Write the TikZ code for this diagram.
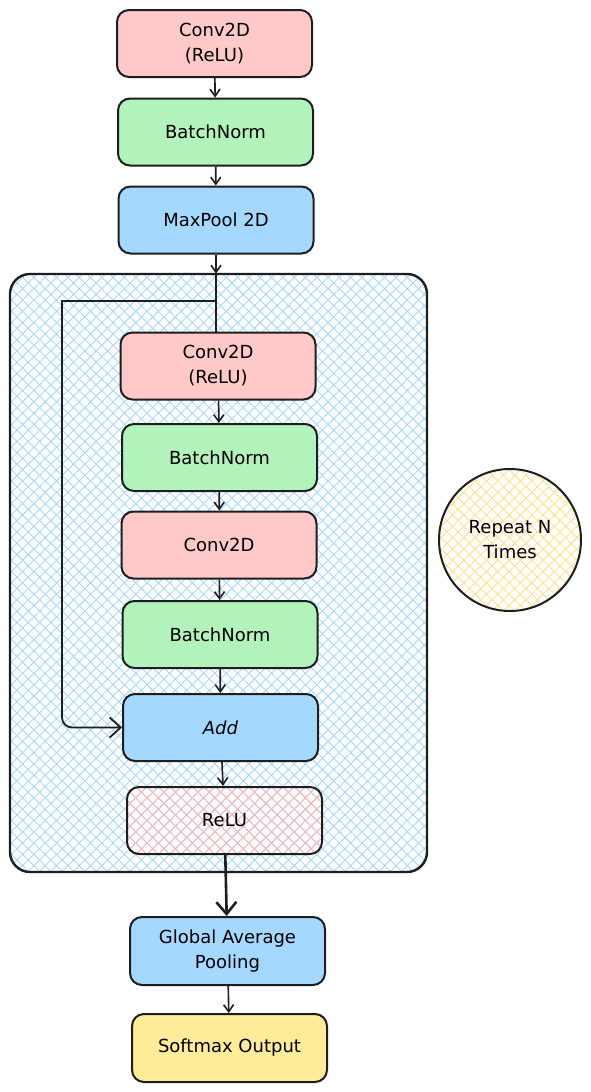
\documentclass[tikz,border=0pt]{standalone}
\usepackage{fontspec}
\setmainfont{DejaVu Sans}
\usepackage{xcolor}
\usepackage{tikz}
\definecolor{convPink}{HTML}{FFC9C9}
\definecolor{normGreen}{HTML}{B2F2BB}
\definecolor{poolBlue}{HTML}{A5D8FF}
\definecolor{outYellow}{HTML}{FFEC99}
\definecolor{inkBlack}{HTML}{1E1E1E}
\usetikzlibrary{arrows.meta, positioning, patterns.meta}

\tikzset{
    layer/.style={
        rectangle,
        rounded corners=12pt,
        draw=inkBlack,
        line width=2pt,
        minimum width=195pt,
        minimum height=67pt,
        align=center,
        font=\fontsize{18}{25}\selectfont
    },
    flow/.style={draw=inkBlack, line width=1.6pt, -{Straight Barb[length=7pt,width=10pt]}}
}

\begin{document}
\begin{tikzpicture}[x=1pt, y=-1pt]
    \useasboundingbox (0,0) rectangle (591,1092);

    % residual block container
    \node[
        rectangle,
        rounded corners=20pt,
        draw=inkBlack,
        line width=2.4pt,
        pattern={Hatch[angle=45,distance=8pt,line width=0.9pt]},
        pattern color=poolBlue,
        minimum width=417pt,
        minimum height=598pt
    ] (block) at (218.5,573) {};

    % stem
    \node[layer, fill=convPink] (conv1) at (214.5,43.5) {Conv2D\\(ReLU)};
    \node[layer, fill=normGreen] (bn1) at (215.5,132) {BatchNorm};
    \node[layer, fill=poolBlue] (pool) at (216,220) {MaxPool 2D};

    % residual block
    \node[layer, fill=convPink] (conv2) at (218,366) {Conv2D\\(ReLU)};
    \node[layer, fill=normGreen] (bn2) at (219.5,457.5) {BatchNorm};
    \node[layer, fill=convPink] (conv3) at (219,545) {Conv2D};
    \node[layer, fill=normGreen] (bn3) at (220,634.5) {BatchNorm};
    \node[layer, fill=poolBlue] (add) at (220.5,727.5) {\itshape Add};
    \node[
        layer,
        pattern={Hatch[angle=45,distance=8pt,line width=0.9pt]},
        pattern color=convPink!90!red
    ] (relu) at (224.5,820.5) {ReLU};

    % head
    \node[layer, fill=poolBlue, minimum height=68pt] (gap) at (227.5,951) {Global Average\\Pooling};
    \node[layer, fill=outYellow, minimum height=68pt] (soft) at (229.5,1048) {Softmax Output};

    % repeat note
    \node[
        circle,
        draw=inkBlack,
        line width=2pt,
        pattern={Hatch[angle=45,distance=8pt,line width=0.9pt]},
        pattern color=outYellow!90!orange,
        minimum size=142pt,
        align=center,
        font=\fontsize{18}{25}\selectfont
    ] (note) at (510,540) {Repeat N\\Times};

    % connectors
    \draw[flow] (conv1) -- (bn1);
    \draw[flow] (bn1) -- (pool);
    \draw[flow] (pool.south) -- (pool.south |- block.north);
    \coordinate (split) at (216,301);
    \coordinate (skiptop) at (62,301);
    \coordinate (skipbot) at (62,727.5);
    \draw[draw=inkBlack, line width=1.6pt] (pool.south |- block.north) -- (split) -- (conv2.north -| split);
    \draw[draw=inkBlack, line width=1.8pt, -{Straight Barb[length=11pt,width=20pt]}]
        (split) -- (skiptop) [rounded corners=10pt] -- (skipbot) -- (add.west);
    \draw[flow] (conv2) -- (bn2);
    \draw[flow] (bn2) -- (conv3);
    \draw[flow] (conv3) -- (bn3);
    \draw[flow] (bn3) -- (add);
    \draw[flow] (add) -- (relu);
    \draw[draw=inkBlack, line width=2.6pt, -{Straight Barb[length=12pt,width=20pt]}] (relu) -- (gap);
    \draw[flow] (gap) -- (soft);
\end{tikzpicture}
\end{document}
